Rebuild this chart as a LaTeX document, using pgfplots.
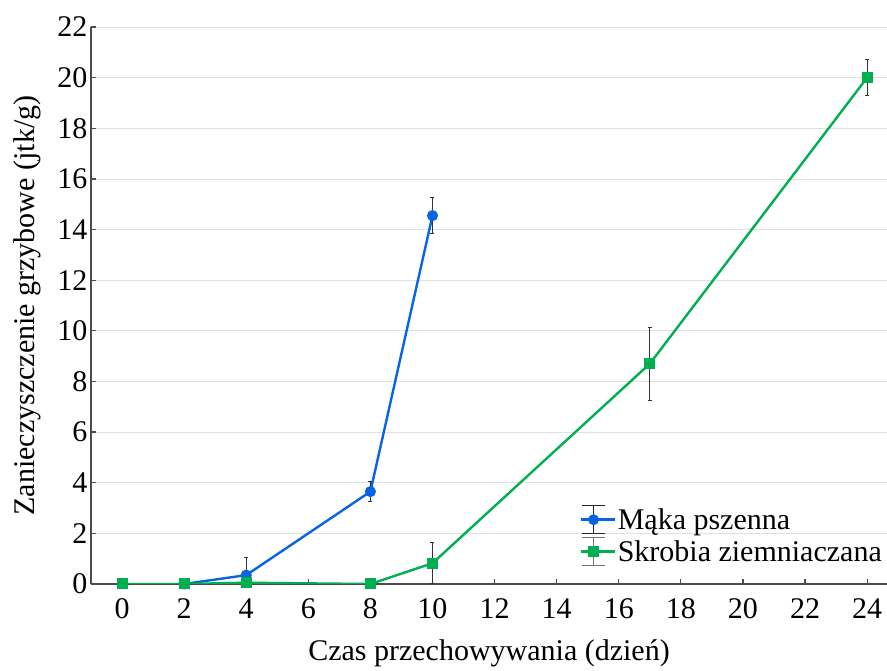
\documentclass[border=0pt]{standalone}
\usepackage{fontspec}
\setmainfont{Liberation Serif}
\usepackage{pgfplots}
\pgfplotsset{compat=1.18}
\definecolor{mblue}{RGB}{8,100,228}
\definecolor{mgreen}{RGB}{0,176,80}
\begin{document}
\begin{tikzpicture}[font=\rmfamily]
\begin{axis}[name=ax,
 scale only axis, width=796pt, height=557pt,
 xmin=-1, xmax=24.64, ymin=0, ymax=22,
 xtick={0,2,...,24}, ytick={0,2,...,22},
 axis x line=bottom, axis y line=left,
 axis line style={-, line width=1.6pt, black!70},
 tick style={black!70, line width=1.2pt}, tick align=inside, major tick length=5pt,
 ymajorgrids, grid style={black!12, line width=0.8pt},
 ticklabel style={font=\rmfamily\fontsize{30}{36}\selectfont},
 xticklabel style={yshift=-11pt},
 /pgf/number format/assume math mode=true,
 xlabel={Czas przechowywania (dzień)},
 ylabel={Zanieczyszczenie grzybowe (jtk/g)},
 xlabel shift=14pt, ylabel shift=10pt,
 label style={font=\rmfamily\fontsize{30}{36}\selectfont},
 legend style={draw=none, fill=none, at={(1,0.028)}, anchor=south east,
   font=\rmfamily\fontsize{30}{36}\selectfont, row sep=3pt},
 legend cell align=left,
]
\addplot[mblue, line width=2.4pt, mark=*, mark size=4.3pt,
  legend image code/.code={
    \path (0pt,0pt)--(34pt,0pt);
    \draw[black!85, line width=1pt] (13pt,-14pt)--(13pt,14pt) (1.5pt,-14pt)--(24.5pt,-14pt) (1.5pt,14pt)--(24.5pt,14pt);
    \draw[mblue, line width=2.4pt] (1.5pt,0pt)--(24.5pt,0pt);
    \fill[mblue] (13pt,0pt) circle (4.2pt);},
  error bars/.cd, y dir=both, y explicit,
  error bar style={black!80, line width=1pt},
  error mark options={rotate=90, mark size=2pt, black!80, line width=1pt}]
  table[x=x, y=y, y error=e]{
x y e
2 0 0
4 0.35 0.68
8 3.65 0.40
10 14.55 0.70
};
\addlegendentry{Mąka pszenna}
\addplot[mgreen, line width=2.4pt, mark=square*, mark size=4.3pt,
  legend image code/.code={
    \path (0pt,0pt)--(34pt,0pt);
    \draw[black!55, line width=1pt] (13pt,-14pt)--(13pt,14pt) (1.5pt,-14pt)--(24.5pt,-14pt) (1.5pt,14pt)--(24.5pt,14pt);
    \draw[mgreen, line width=2.4pt] (1.5pt,0pt)--(24.5pt,0pt);
    \fill[mgreen] (8.7pt,-4.3pt) rectangle (17.3pt,4.3pt);},
  error bars/.cd, y dir=both, y explicit,
  error bar style={black!80, line width=1pt},
  error mark options={rotate=90, mark size=2pt, black!80, line width=1pt}]
  table[x=x, y=y, y error=e]{
x y e
0 0 0
2 0 0
4 0.05 0
8 0 0
10 0.82 0.80
17 8.7 1.45
24 20.0 0.70
};
\addlegendentry{Skrobia ziemniaczana}
\end{axis}
\pgfresetboundingbox
\path ([xshift=-91pt, yshift=27pt]ax.north west) rectangle ([yshift=-87pt]ax.south east);
\end{tikzpicture}
\end{document}
